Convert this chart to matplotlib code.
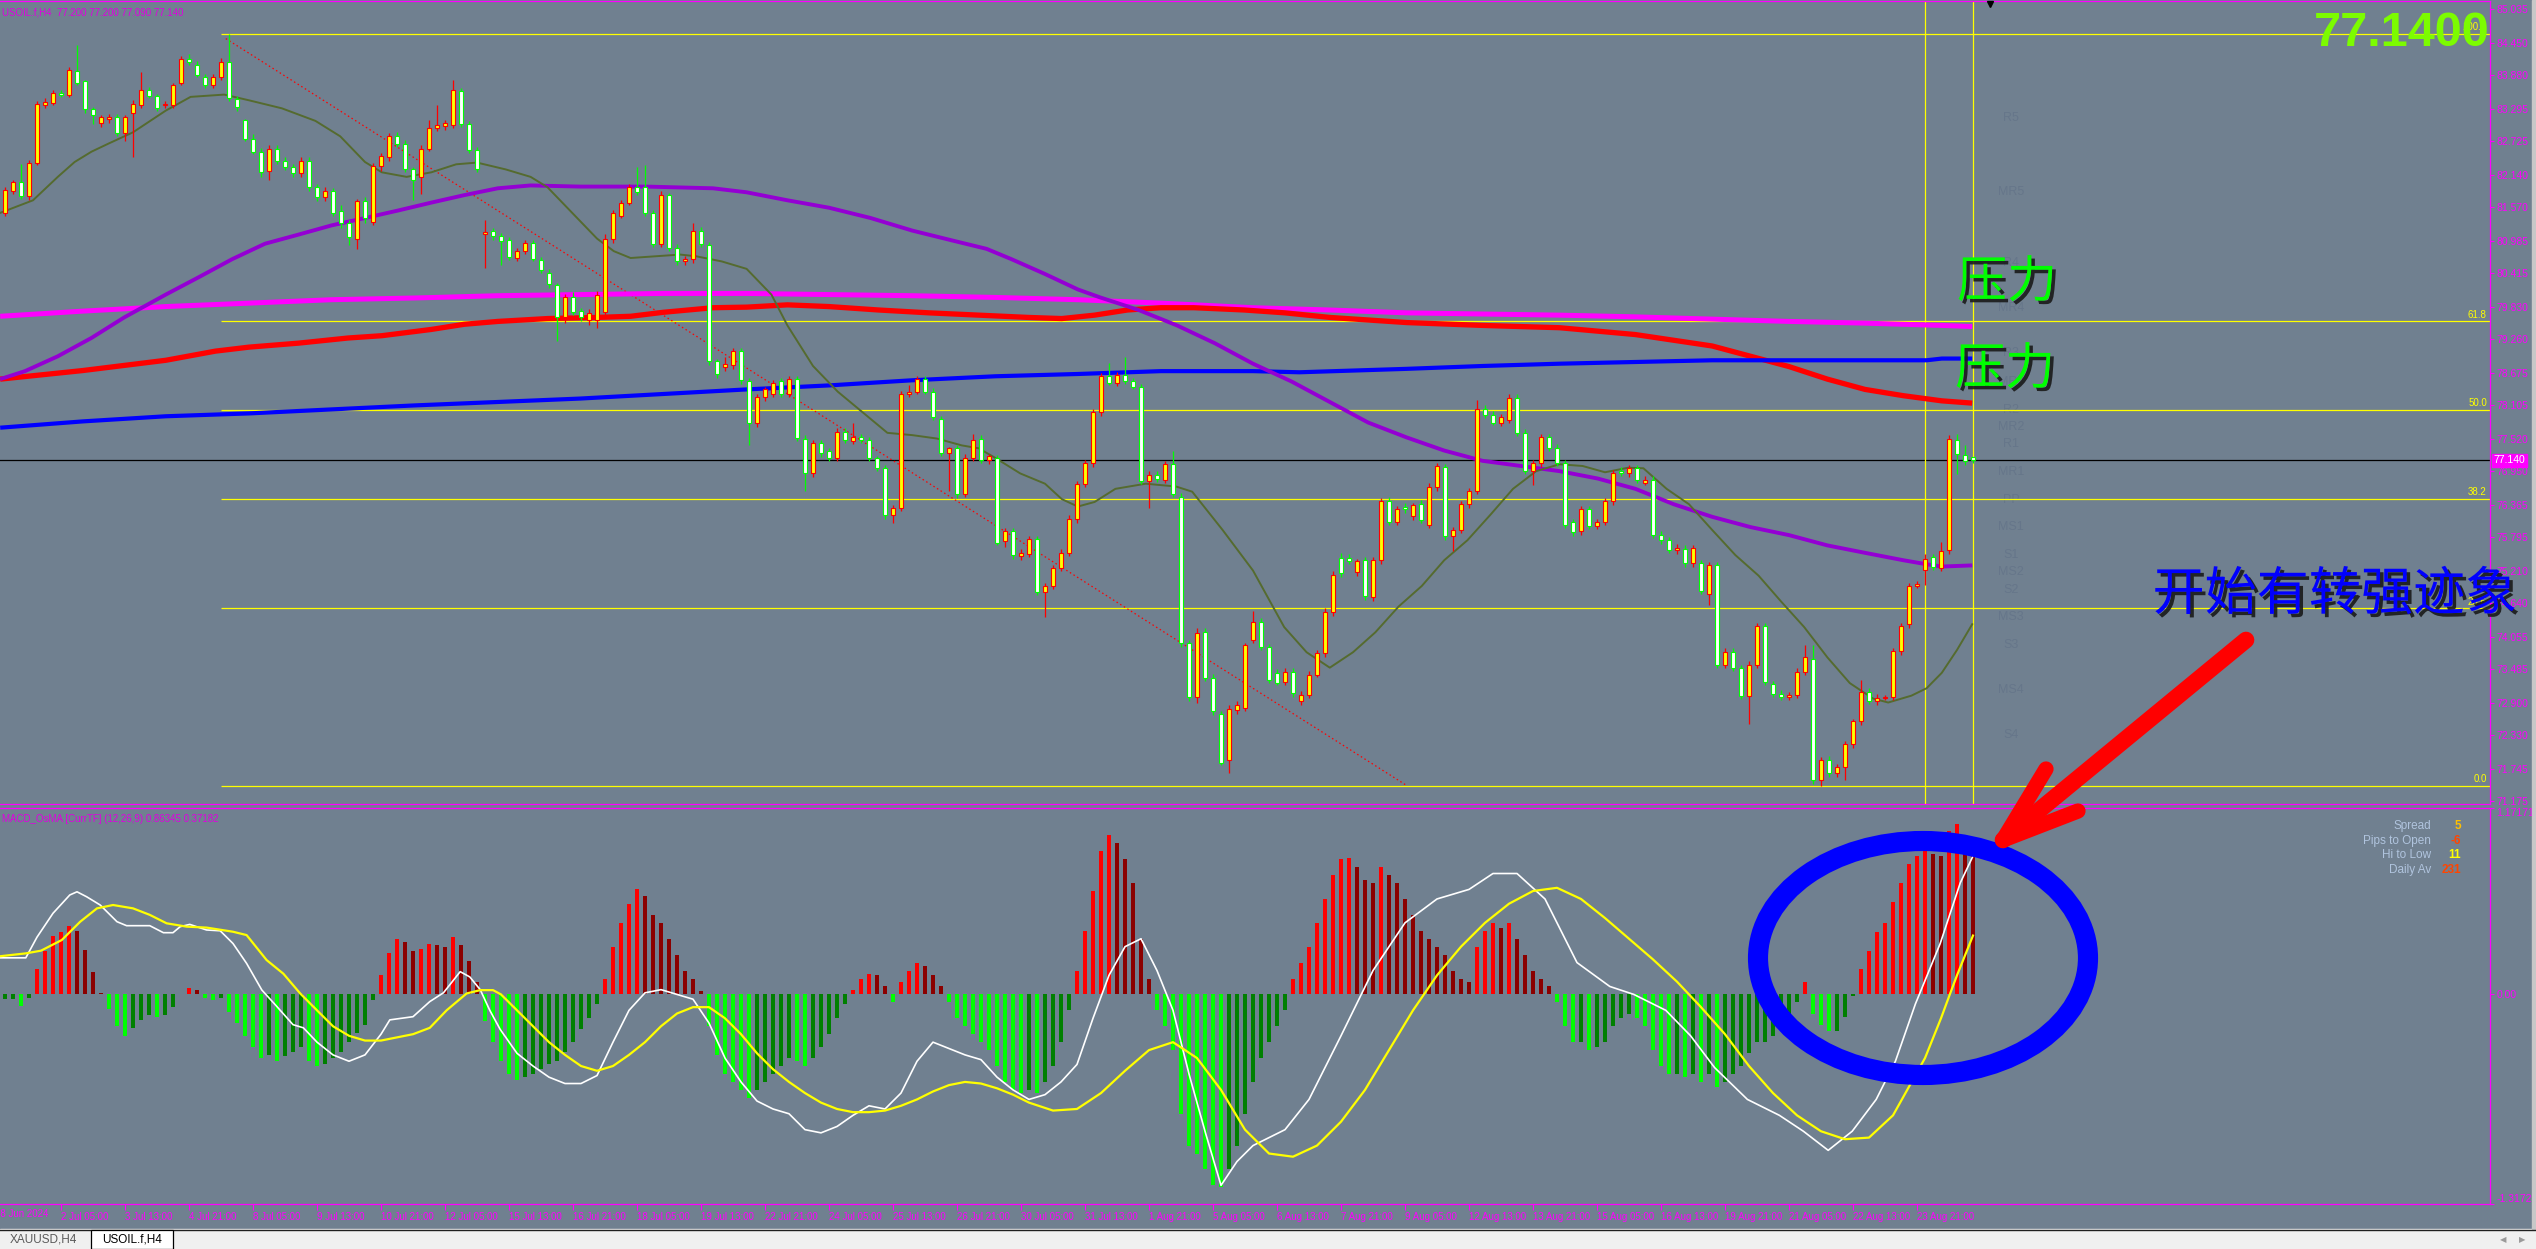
import matplotlib
matplotlib.use("Agg")
import matplotlib.pyplot as plt
import matplotlib.patheffects as pe
from matplotlib import font_manager
from matplotlib.patches import Ellipse, Rectangle
import numpy as np

W, H = 2536, 1249
BG = "#708090"
MAG = "#FF00FF"

installed = {f.name for f in font_manager.fontManager.ttflist}
ARIAL = "Liberation Sans" if "Liberation Sans" in installed else "DejaVu Sans"
NARROW = "Liberation Sans Narrow" if "Liberation Sans Narrow" in installed else ARIAL
CJK = ["Noto Sans CJK SC", "DejaVu Sans"]

# ---------------- data (USOIL.f, H4) ----------------
bar_open = [
    81.47, 81.85, 82.01, 81.76, 82.35, 83.35, 83.39, 83.57, 83.54, 83.96,
    83.77, 83.28, 83.05, 83.12, 83.15, 82.86, 83.21, 83.35, 83.62, 83.51,
    83.35, 83.35, 83.75, 84.17, 84.06, 83.84, 83.71, 83.84, 84.11, 83.46,
    83.10, 82.77, 82.54, 82.20, 82.59, 82.38, 82.27, 82.16, 82.38, 81.92,
    81.74, 81.85, 81.51, 81.29, 81.02, 81.67, 81.31, 82.29, 82.44, 82.81,
    82.68, 82.23, 82.10, 82.59, 82.95, 82.99, 83.00, 83.60, 83.03, 82.57,
    81.10, 81.15, 81.07, 81.00, 80.68, 80.80, 80.94, 80.65, 80.42, 80.20,
    79.64, 80.00, 79.75, 79.60, 79.60, 79.73, 81.02, 81.42, 81.65, 81.92,
    81.92, 81.47, 80.93, 81.78, 80.86, 80.62, 80.66, 81.16, 80.90, 78.87,
    78.78, 78.80, 79.05, 78.52, 77.80, 78.25, 78.30, 78.52, 78.30, 78.56,
    77.52, 76.91, 77.44, 77.30, 77.18, 77.64, 77.48, 77.55, 77.49, 77.18,
    77.00, 76.19, 76.30, 78.30, 78.34, 78.56, 78.34, 77.87, 77.27, 77.35,
    76.55, 77.18, 77.51, 77.15, 77.18, 75.72, 75.90, 75.46, 75.50, 75.77,
    74.83, 74.94, 75.25, 75.52, 76.12, 76.73, 77.09, 77.98, 78.61, 78.50,
    78.63, 78.52, 78.43, 76.77, 76.89, 76.80, 77.07, 76.50, 73.94, 72.99,
    74.13, 73.33, 72.70, 71.90, 72.77, 72.80, 74.00, 74.31, 73.87, 73.42,
    73.26, 73.44, 72.93, 73.04, 73.39, 73.76, 74.49, 75.43, 75.43, 75.19,
    75.39, 74.74, 75.39, 76.42, 76.06, 76.33, 76.17, 76.37, 76.01, 76.68,
    77.02, 75.82, 75.92, 76.37, 76.61, 78.03, 77.94, 77.80, 77.85, 78.23,
    77.62, 76.95, 77.09, 77.54, 77.36, 77.09, 76.06, 75.90, 76.28, 75.99,
    76.06, 76.42, 76.96, 76.91, 77.00, 76.75, 76.80, 75.83, 75.74, 75.57,
    75.59, 75.34, 75.34, 74.80, 75.30, 73.55, 73.79, 73.51, 73.02, 73.55,
    74.24, 73.22, 73.05, 73.00, 73.03, 73.44, 73.66, 71.54, 71.90, 71.67,
    71.77, 72.17, 72.57, 73.08, 72.92, 72.98, 73.00, 73.81, 74.28, 74.94,
    75.22, 75.45, 75.25, 75.57, 77.49, 77.23, 77.20,
]
bar_high = [
    81.92, 82.05, 82.32, 82.40, 83.42, 83.48, 83.62, 83.62, 84.02, 84.40,
    83.80, 83.32, 83.18, 83.20, 83.20, 83.18, 83.45, 83.93, 83.68, 83.55,
    83.42, 83.75, 84.22, 84.25, 84.12, 83.90, 83.90, 84.18, 84.60, 83.52,
    83.12, 82.85, 82.60, 82.65, 82.66, 82.45, 82.33, 82.45, 82.44, 81.98,
    81.92, 81.90, 81.60, 81.35, 81.72, 81.75, 82.35, 82.52, 82.86, 82.88,
    82.74, 82.28, 82.65, 83.10, 83.35, 83.10, 83.80, 83.66, 83.08, 82.62,
    81.35, 81.20, 81.12, 81.05, 80.85, 81.00, 81.00, 80.70, 80.48, 80.25,
    80.05, 80.08, 79.80, 79.78, 80.10, 81.10, 81.52, 81.70, 81.97, 82.27,
    82.30, 81.52, 81.85, 81.82, 80.92, 80.72, 81.30, 81.22, 80.96, 78.92,
    78.95, 79.10, 79.10, 78.58, 78.30, 78.42, 78.55, 78.58, 78.62, 78.62,
    77.58, 77.50, 77.50, 77.36, 77.70, 77.70, 77.80, 77.60, 77.54, 77.22,
    77.05, 76.36, 78.35, 78.45, 78.62, 78.62, 78.40, 77.92, 77.38, 77.40,
    77.25, 77.60, 77.58, 77.25, 77.24, 75.95, 75.96, 75.58, 75.82, 75.82,
    74.99, 75.30, 75.58, 76.18, 76.78, 77.14, 78.04, 78.66, 78.85, 78.68,
    78.95, 78.58, 78.48, 76.95, 76.95, 77.12, 77.30, 76.56, 74.00, 74.20,
    74.20, 73.40, 72.76, 72.85, 72.92, 73.95, 74.50, 74.38, 73.92, 73.48,
    73.50, 73.50, 73.10, 73.45, 73.82, 74.55, 75.20, 75.52, 75.50, 75.42,
    75.45, 75.45, 76.48, 76.50, 76.34, 76.40, 76.40, 76.45, 76.74, 77.10,
    77.08, 75.98, 76.42, 76.66, 78.20, 78.10, 78.00, 77.95, 78.30, 78.30,
    77.68, 77.14, 77.60, 77.60, 77.42, 77.14, 76.12, 76.34, 76.34, 76.12,
    76.48, 76.97, 77.02, 77.06, 77.06, 76.86, 76.86, 75.90, 75.80, 75.68,
    75.65, 75.66, 75.40, 75.36, 75.36, 73.85, 73.85, 73.56, 73.62, 74.30,
    74.30, 73.28, 73.12, 73.08, 73.50, 73.90, 73.90, 71.95, 71.96, 71.82,
    72.22, 72.62, 73.30, 73.15, 73.05, 73.04, 73.86, 74.30, 75.00, 75.02,
    75.50, 75.50, 75.71, 77.58, 77.60, 77.40, 77.20,
]
bar_low = [
    81.42, 81.80, 81.72, 81.70, 82.30, 83.30, 83.35, 83.50, 83.50, 83.70,
    83.22, 83.03, 82.98, 83.05, 82.82, 82.72, 82.45, 83.30, 83.48, 83.25,
    83.30, 83.30, 83.70, 84.05, 83.84, 83.66, 83.65, 83.80, 83.42, 83.25,
    82.72, 82.50, 82.10, 82.05, 82.33, 82.22, 82.10, 82.10, 81.86, 81.68,
    81.68, 81.42, 81.20, 80.90, 80.83, 81.30, 81.25, 82.20, 82.38, 82.62,
    82.18, 81.70, 81.80, 82.55, 82.90, 82.92, 82.95, 82.98, 82.52, 82.18,
    80.50, 81.00, 80.55, 80.65, 80.62, 80.75, 80.62, 80.42, 80.15, 79.23,
    79.55, 79.68, 79.58, 79.50, 79.45, 79.65, 80.95, 81.38, 81.60, 81.78,
    81.42, 80.88, 80.88, 80.80, 80.56, 80.55, 80.60, 80.88, 78.80, 78.58,
    78.70, 78.74, 78.48, 77.40, 77.72, 78.18, 78.25, 78.25, 78.25, 77.48,
    76.60, 76.85, 77.20, 77.12, 77.12, 77.44, 77.42, 77.45, 77.12, 76.95,
    76.12, 76.05, 76.25, 78.25, 78.30, 78.30, 77.84, 77.22, 76.60, 76.48,
    76.50, 77.12, 77.10, 77.08, 75.65, 75.62, 75.42, 75.40, 75.44, 74.78,
    74.40, 74.88, 75.20, 75.46, 76.05, 76.68, 77.02, 77.92, 78.45, 78.44,
    78.48, 78.38, 76.72, 76.30, 76.76, 76.74, 76.50, 73.88, 72.92, 72.90,
    73.28, 72.68, 71.80, 71.67, 72.70, 72.75, 73.95, 73.82, 73.24, 73.20,
    73.20, 73.00, 72.85, 72.98, 73.34, 73.70, 74.42, 75.10, 75.32, 75.12,
    74.70, 74.68, 75.33, 76.00, 76.00, 76.22, 76.10, 76.04, 75.95, 76.60,
    75.75, 75.55, 75.86, 76.30, 76.55, 77.88, 77.75, 77.74, 77.80, 77.56,
    76.90, 76.70, 77.02, 77.30, 77.04, 75.95, 75.82, 75.84, 75.93, 75.93,
    76.00, 76.36, 76.86, 76.85, 76.75, 76.70, 75.78, 75.68, 75.52, 75.50,
    75.28, 75.28, 74.80, 74.60, 73.50, 73.50, 73.46, 72.97, 72.52, 73.50,
    73.20, 73.00, 72.95, 72.94, 72.98, 73.38, 71.48, 71.44, 71.60, 71.60,
    71.55, 72.10, 72.50, 72.88, 72.86, 72.94, 72.95, 73.74, 74.20, 74.90,
    74.95, 75.22, 75.20, 75.50, 76.90, 77.05, 77.09,
]
bar_close = [
    81.87, 82.01, 81.76, 82.34, 83.37, 83.41, 83.57, 83.53, 83.97, 83.75,
    83.28, 83.19, 83.14, 83.15, 82.86, 83.15, 83.38, 83.62, 83.51, 83.30,
    83.37, 83.71, 84.17, 84.11, 83.88, 83.71, 83.84, 84.11, 83.48, 83.32,
    82.77, 82.54, 82.19, 82.59, 82.38, 82.27, 82.16, 82.38, 81.92, 81.74,
    81.85, 81.47, 81.29, 81.04, 81.67, 81.38, 82.29, 82.47, 82.81, 82.68,
    82.23, 82.05, 82.59, 82.95, 83.01, 83.05, 83.62, 83.03, 82.57, 82.23,
    81.13, 81.07, 80.98, 80.70, 80.80, 80.94, 80.67, 80.47, 80.22, 79.64,
    80.00, 79.73, 79.64, 79.72, 80.04, 81.02, 81.47, 81.65, 81.92, 81.83,
    81.47, 80.93, 81.78, 80.86, 80.62, 80.66, 81.16, 80.93, 78.87, 78.65,
    78.83, 79.05, 78.54, 77.80, 78.25, 78.38, 78.50, 78.30, 78.56, 77.53,
    76.91, 77.44, 77.26, 77.18, 77.64, 77.49, 77.55, 77.50, 77.18, 77.00,
    76.19, 76.30, 78.30, 78.34, 78.56, 78.34, 77.89, 77.27, 77.35, 76.55,
    77.18, 77.50, 77.15, 77.21, 75.70, 75.90, 75.48, 75.52, 75.77, 74.83,
    74.94, 75.25, 75.52, 76.12, 76.73, 77.09, 77.98, 78.61, 78.50, 78.63,
    78.52, 78.43, 76.77, 76.89, 76.82, 77.07, 76.55, 73.94, 72.99, 74.11,
    73.33, 72.75, 71.85, 72.79, 72.85, 73.90, 74.31, 73.87, 73.29, 73.24,
    73.44, 73.06, 73.04, 73.39, 73.76, 74.49, 75.14, 75.16, 75.37, 75.37,
    74.76, 75.39, 76.42, 76.06, 76.28, 76.28, 76.35, 76.10, 76.68, 77.04,
    75.82, 75.92, 76.37, 76.61, 78.03, 77.94, 77.80, 77.89, 78.23, 77.62,
    76.95, 77.09, 77.54, 77.36, 77.09, 76.01, 75.88, 76.28, 75.99, 76.06,
    76.42, 76.91, 76.91, 77.00, 76.80, 76.80, 75.83, 75.74, 75.57, 75.61,
    75.34, 75.61, 74.85, 75.30, 73.55, 73.79, 73.51, 73.02, 73.55, 74.24,
    73.26, 73.05, 73.00, 73.03, 73.44, 73.69, 71.54, 71.90, 71.67, 71.77,
    72.17, 72.57, 73.08, 72.92, 72.98, 73.00, 73.81, 74.24, 74.94, 74.97,
    75.41, 75.27, 75.55, 77.51, 77.25, 77.13, 77.14,
]

# moving averages, sampled (bar index, price)
olive_x = [-0.6, 3.5, 6.6, 8.7, 10.8, 12.9, 16, 20.1, 23.2, 27.4, 30.5, 34.6, 38.8, 41.9, 45,
           47.1, 50.2, 53.3, 56.4, 59, 62.6, 65.7, 67.8, 70.9, 74, 76.1, 78.2, 81.3, 84.4,
           86.4, 89.6, 92.7, 95.8, 97.8, 101, 104.1, 107.2, 110.3, 113.4, 116.5, 119.6,
           121.7, 123.8, 126.9, 130, 132.1, 134.1, 136.2, 138.8, 142.6, 146.4, 148.4,
           152.2, 156, 159.9, 162.7, 165.6, 168.5, 171.3, 174.2, 177.1, 179.9, 182.8,
           185.7, 188.5, 191.4, 194.3, 197.2, 200, 202.9, 204.8, 207.7, 210.5, 213.4,
           216.3, 219.2, 222, 224.9, 227.8, 230.6, 233.5, 235.4, 238.3, 240.2, 242.1,
           244, 245.9]
olive_y = [81.47, 81.69, 82.10, 82.36, 82.54, 82.68, 82.88, 83.26, 83.50, 83.54, 83.44, 83.30,
           83.08, 82.81, 82.36, 82.18, 82.10, 82.18, 82.32, 82.35, 82.23, 82.10, 81.92,
           81.47, 81.02, 80.80, 80.68, 80.71, 80.74, 80.71, 80.62, 80.49, 80.04, 79.50,
           78.79, 78.34, 77.98, 77.62, 77.58, 77.52, 77.40, 77.35, 77.18, 76.91, 76.73,
           76.46, 76.33, 76.41, 76.64, 76.73, 76.68, 76.59, 75.92, 75.21, 74.22, 73.78,
           73.51, 73.78, 74.13, 74.58, 74.94, 75.39, 75.74, 76.19, 76.64, 76.95, 77.07,
           77.04, 76.93, 77.01, 77.00, 76.64, 76.37, 75.92, 75.48, 75.12, 74.67, 74.22,
           73.69, 73.24, 72.97, 72.90, 73.02, 73.15, 73.42, 73.82, 74.27]

purple_x = [-0.6, 2.5, 6.6, 10.8, 14.9, 20.1, 24.3, 28.4, 32.5, 36.7, 40.8, 45, 49.1, 53.3,
            57.4, 61.6, 65.7, 71.9, 80.2, 88.5, 92.7, 97.8, 103, 108.2, 113.4, 118.6, 122.7,
            125.8, 130, 134.1, 136.9, 141.7, 146.5, 151.2, 156, 160.8, 165.6, 170.4, 175.2,
            179.9, 184.7, 189.5, 194.3, 199.1, 203.8, 208.6, 213.4, 218.2, 223, 227.8,
            232.5, 237.3, 240.2, 242.1, 245.9]
purple_y = [78.56, 78.70, 78.96, 79.28, 79.64, 80.04, 80.35, 80.66, 80.93, 81.09, 81.25, 81.38,
            81.51, 81.65, 81.78, 81.90, 81.95, 81.93, 81.93, 81.90, 81.83, 81.69, 81.56,
            81.38, 81.16, 80.98, 80.84, 80.66, 80.40, 80.13, 79.99, 79.77, 79.50, 79.19,
            78.83, 78.52, 78.16, 77.80, 77.54, 77.31, 77.13, 77.04, 76.95, 76.82, 76.64,
            76.37, 76.15, 75.97, 75.83, 75.65, 75.52, 75.39, 75.32, 75.28, 75.30]

red_x = [-0.6, 9.7, 20.1, 26.3, 30.5, 36.7, 42.9, 47.1, 53.3, 57.4, 61.6, 67.8, 74, 78.2, 82.3,
         88.5, 92.7, 97.8, 103, 109.2, 115.5, 121.7, 127.9, 132.1, 136.2, 140.3, 144.5,
         148.6, 154.9, 160, 165.6, 175.2, 184.7, 194.3, 203.8, 213.4, 218.2, 223, 227.8,
         232.5, 237.3, 242.1, 245.9]
red_y = [78.56, 78.71, 78.89, 79.05, 79.12, 79.19, 79.28, 79.32, 79.43, 79.52, 79.57, 79.62,
         79.64, 79.66, 79.73, 79.81, 79.82, 79.86, 79.83, 79.77, 79.72, 79.68, 79.64, 79.62,
         79.68, 79.77, 79.81, 79.81, 79.77, 79.72, 79.64, 79.55, 79.50, 79.46, 79.34, 79.14,
         78.96, 78.78, 78.56, 78.38, 78.27, 78.18, 78.14]

magenta_x = [-0.6, 9.7, 20.1, 30.5, 40.8, 51.2, 61.6, 71.9, 82.3, 92.7, 103, 113.4, 123.8,
             134.1, 144.5, 156, 165.6, 175.2, 184.7, 194.3, 203.8, 213.4, 223, 232.5, 242.1,
             245.9]
magenta_y = [79.66, 79.75, 79.83, 79.89, 79.95, 79.98, 80.02, 80.04, 80.06, 80.06, 80.04, 80.02,
             79.99, 79.95, 79.89, 79.81, 79.77, 79.72, 79.70, 79.68, 79.65, 79.61, 79.57,
             79.54, 79.50, 79.48]

blue_x = [-0.6, 9.7, 20.1, 30.5, 40.8, 51.2, 61.6, 71.9, 82.3, 92.7, 103, 113.4, 123.8, 134.1,
          144.5, 156, 161.8, 175.2, 184.7, 194.3, 203.8, 213.4, 232.5, 240.2, 242.1, 245.9]
blue_y = [77.71, 77.82, 77.91, 77.96, 78.03, 78.10, 78.16, 78.22, 78.30, 78.38, 78.45, 78.54,
          78.61, 78.65, 78.70, 78.70, 78.68, 78.74, 78.79, 78.83, 78.86, 78.89, 78.89, 78.89,
          78.92, 78.92]

# fibonacci retracement drawn from the swing high to the swing low
fib_high, fib_low = 84.60, 71.44
fib_start_bar = 27
fib_levels = [0.0, 23.6, 38.2, 50.0, 61.8, 100.0]

# red dotted trend line
trend_x = [27.6, 175.3]
trend_y = [84.52, 71.44]

current_price = 77.14
separator_bars = [240, 246]

price_ticks = [85.035, 84.450, 83.880, 83.295, 82.725, 82.140, 81.570, 80.985, 80.415,
               79.830, 79.260, 78.675, 78.105, 77.520, 76.950, 76.365, 75.795, 75.210,
               74.640, 74.055, 73.485, 72.900, 72.330, 71.745, 71.175]

pivot_names = ["R5", "MR5", "R4", "MR4", "R3", "MR3", "R2", "MR2", "R1", "MR1", "PP",
               "MS1", "S1", "MS2", "S2", "MS3", "S3", "MS4", "S4"]
pivot_prices = [83.13, 81.83, 80.59, 79.80, 79.02, 78.51, 78.02, 77.72, 77.42, 76.93, 76.44,
                75.97, 75.48, 75.18, 74.87, 74.40, 73.91, 73.12, 72.33]

date_labels = ["28 Jun 2024", "2 Jul 05:00", "3 Jul 13:00", "4 Jul 21:00", "8 Jul 05:00",
               "9 Jul 13:00", "10 Jul 21:00", "12 Jul 05:00", "15 Jul 13:00", "16 Jul 21:00",
               "18 Jul 05:00", "19 Jul 13:00", "22 Jul 21:00", "24 Jul 05:00", "25 Jul 13:00",
               "26 Jul 21:00", "30 Jul 05:00", "31 Jul 13:00", "1 Aug 21:00", "5 Aug 05:00",
               "6 Aug 13:00", "7 Aug 21:00", "9 Aug 05:00", "12 Aug 13:00", "13 Aug 21:00",
               "15 Aug 05:00", "16 Aug 13:00", "19 Aug 21:00", "21 Aug 05:00", "22 Aug 13:00",
               "23 Aug 21:00"]
date_first_bar = -1

# MACD_OsMA sub window
osma = [
    -0.03, -0.03, -0.07, -0.02, 0.16, 0.27, 0.37, 0.39, 0.43, 0.40,
    0.28, 0.14, 0.01, -0.09, -0.20, -0.26, -0.21, -0.16, -0.13, -0.14,
    -0.13, -0.08, 0.005, 0.04, 0.03, -0.02, -0.035, -0.02, -0.11, -0.18,
    -0.26, -0.33, -0.40, -0.38, -0.42, -0.39, -0.36, -0.33, -0.42, -0.45,
    -0.44, -0.40, -0.36, -0.30, -0.24, -0.19, -0.035, 0.12, 0.26, 0.35,
    0.33, 0.27, 0.285, 0.32, 0.31, 0.295, 0.36, 0.31, 0.21, 0.08,
    -0.17, -0.30, -0.42, -0.50, -0.54, -0.52, -0.50, -0.47, -0.44, -0.42,
    -0.36, -0.30, -0.22, -0.15, -0.06, 0.10, 0.30, 0.45, 0.57, 0.66,
    0.62, 0.50, 0.45, 0.35, 0.25, 0.15, 0.10, 0.02, -0.20, -0.38,
    -0.50, -0.55, -0.60, -0.65, -0.60, -0.55, -0.50, -0.45, -0.40, -0.42,
    -0.45, -0.40, -0.33, -0.25, -0.15, -0.06, 0.03, 0.10, 0.13, 0.12,
    0.05, -0.05, 0.08, 0.15, 0.20, 0.18, 0.12, 0.05, -0.05, -0.15,
    -0.20, -0.25, -0.30, -0.35, -0.45, -0.55, -0.60, -0.62, -0.60, -0.62,
    -0.55, -0.45, -0.30, -0.10, 0.15, 0.40, 0.65, 0.90, 1.00, 0.95,
    0.85, 0.70, 0.35, 0.10, -0.10, -0.20, -0.35, -0.75, -0.95, -1.00,
    -1.10, -1.20, -1.21, -1.10, -0.95, -0.75, -0.55, -0.40, -0.30, -0.20,
    -0.10, 0.10, 0.20, 0.30, 0.45, 0.60, 0.75, 0.85, 0.86, 0.80,
    0.72, 0.70, 0.80, 0.75, 0.70, 0.60, 0.50, 0.40, 0.35, 0.30,
    0.25, 0.15, 0.10, 0.08, 0.30, 0.40, 0.45, 0.42, 0.45, 0.35,
    0.25, 0.15, 0.10, 0.05, -0.05, -0.20, -0.30, -0.30, -0.35, -0.33,
    -0.30, -0.20, -0.15, -0.12, -0.15, -0.20, -0.35, -0.45, -0.50, -0.50,
    -0.52, -0.50, -0.55, -0.50, -0.58, -0.55, -0.50, -0.45, -0.37, -0.30,
    -0.30, -0.26, -0.20, -0.15, -0.05, 0.076, -0.12, -0.19, -0.23, -0.23,
    -0.14, -0.01, 0.16, 0.27, 0.39, 0.45, 0.58, 0.70, 0.82, 0.87,
    0.90, 0.88, 0.87, 1.03, 1.07, 1.00, 0.97,
]
macd_x = [-0.6, 2.6, 4, 6, 8.1, 9, 10.2, 11.9, 14, 15.2, 18.1, 19.8, 21, 21.9, 23.1, 25.2,
          26.9, 28.5, 30.2, 32.1, 34, 36, 37.3, 39, 41, 43, 45, 47, 48.1, 51, 53.1, 54.8,
          56.9, 58.1, 59.4, 60.6, 61.9, 64, 66, 68, 70, 72, 74, 76, 78, 80, 82, 84, 86, 88,
          90, 92, 94, 96, 98, 100, 102, 104, 106, 108, 110, 112, 114, 116, 118, 120, 122,
          124, 126, 128, 130, 132, 134, 136, 138, 140, 142, 144, 146, 148, 150, 152, 154,
          156, 158, 160, 163, 167, 171, 175, 179, 183, 186, 189, 192.5, 196.5, 200.6, 203.6,
          207.6, 210.7, 213.7, 217.8, 221.8, 224.8, 227.9, 230.9, 233.9, 236.3, 238.8,
          241.9, 244.4, 246]
macd_y = [0.23, 0.23, 0.36, 0.51, 0.625, 0.645, 0.614, 0.562, 0.457, 0.432, 0.432, 0.388,
          0.388, 0.426, 0.44, 0.405, 0.40, 0.32, 0.195, 0.028, -0.077, -0.19, -0.21, -0.30,
          -0.38, -0.42, -0.38, -0.25, -0.16, -0.14, -0.045, 0.01, 0.143, 0.11, 0.03, -0.10,
          -0.22, -0.37, -0.45, -0.52, -0.56, -0.56, -0.51, -0.30, -0.10, 0.01, 0.03, 0.0,
          -0.03, -0.18, -0.40, -0.55, -0.67, -0.72, -0.75, -0.85, -0.87, -0.83, -0.76, -0.70,
          -0.72, -0.62, -0.42, -0.30, -0.34, -0.38, -0.41, -0.52, -0.60, -0.66, -0.63, -0.55,
          -0.44, -0.15, 0.12, 0.30, 0.35, 0.15, -0.10, -0.50, -0.86, -1.20, -1.05, -0.95,
          -0.90, -0.85, -0.66, -0.26, 0.15, 0.45, 0.60, 0.66, 0.76, 0.76, 0.60, 0.20, 0.05,
          0.0, -0.10, -0.26, -0.46, -0.66, -0.76, -0.86, -0.98, -0.86, -0.66, -0.42, -0.06,
          0.32, 0.70, 0.87]
signal_x = [-0.6, 2.6, 4.5, 7.1, 9.4, 11.5, 13.5, 16, 18.1, 20.2, 22.7, 25.2, 28.5, 30.2,
            32.7, 34.8, 36.9, 39, 41, 43, 45, 47, 49, 51, 53.1, 55.2, 57.7, 59.4, 61, 62,
            64, 66, 68, 70, 72, 74, 76, 78, 80, 82, 84, 86, 88, 90, 92, 94, 96, 98, 100,
            102, 104, 106, 108, 110, 112, 114, 116, 118, 120, 122, 124, 126, 128, 131, 134,
            137, 140, 143, 146, 149, 152, 155, 158, 161, 164, 167, 170, 173, 176, 179, 182,
            185, 188, 191, 194, 197, 200, 203, 206, 209, 212, 215, 218, 221, 224, 227, 230,
            233, 236, 238, 240, 242, 243.1, 244, 246]
signal_y = [0.24, 0.258, 0.275, 0.342, 0.457, 0.541, 0.562, 0.541, 0.50, 0.447, 0.426, 0.42,
            0.394, 0.373, 0.216, 0.13, 0.006, -0.10, -0.20, -0.26, -0.29, -0.29, -0.27,
            -0.25, -0.21, -0.10, 0.006, 0.027, 0.027, 0.0, -0.10, -0.20, -0.30, -0.38, -0.45,
            -0.48, -0.45, -0.38, -0.30, -0.20, -0.12, -0.08, -0.08, -0.15, -0.25, -0.37,
            -0.47, -0.55, -0.62, -0.68, -0.72, -0.74, -0.74, -0.73, -0.70, -0.66, -0.61,
            -0.57, -0.55, -0.56, -0.59, -0.63, -0.68, -0.73, -0.72, -0.62, -0.48, -0.35,
            -0.30, -0.40, -0.60, -0.85, -1.00, -1.02, -0.95, -0.80, -0.60, -0.35, -0.10,
            0.12, 0.30, 0.45, 0.57, 0.65, 0.67, 0.60, 0.48, 0.35, 0.22, 0.08, -0.08, -0.25,
            -0.45, -0.62, -0.76, -0.86, -0.91, -0.90, -0.76, -0.58, -0.40, -0.15, 0.0, 0.12,
            0.37]
sub_top, sub_bottom = 1.17171, -1.31724

info_names = ["Spread", "Pips to Open", "Hi to Low", "Daily Av"]
info_values = ["5", "-6", "11", "231"]

# ---------------- figure ----------------
fig = plt.figure(figsize=(W / 100, H / 100), dpi=100, facecolor=BG)


def px_box(x0, y0, x1, y1):
    return [x0 / W, 1 - y1 / H, (x1 - x0) / W, (y1 - y0) / H]


ax = fig.add_axes(px_box(0, 1, 2490, 804))
ax2 = fig.add_axes(px_box(0, 808, 2490, 1204))
x_left, x_right = -0.625, 310.625

for a in (ax, ax2):
    a.set_facecolor(BG)
    a.set_xlim(x_left, x_right)
    a.spines["left"].set_visible(False)
    for s in ("top", "right", "bottom"):
        a.spines[s].set_color(MAG)
        a.spines[s].set_linewidth(0.9)

ax.set_ylim(71.124, 85.178)
ax2.set_ylim(sub_bottom, sub_top)

# --- main window ---
o = np.array(bar_open)
hi = np.array(bar_high)
lo = np.array(bar_low)
c = np.array(bar_close)
xb = np.arange(len(o))
up = c >= o

fib_prices = [fib_low + lv / 100.0 * (fib_high - fib_low) for lv in fib_levels]
ax.hlines(fib_prices, fib_start_bar, x_right, color="#FFFF00", lw=0.9, zorder=2)
for lv, pr in zip(fib_levels, fib_prices):
    ax.text(x_right - 0.4, pr + 0.03, f"{lv:.1f}", color="#FFFF00", fontsize=7,
            family=NARROW, ha="right", va="bottom", zorder=2)

ax.axhline(current_price, color="black", lw=0.9, zorder=2)
for sb in separator_bars:
    ax.axvline(sb, color="#FFFF00", lw=0.9, zorder=2)

for nm, pr in zip(pivot_names, pivot_prices):
    ax.text(250.75, pr, nm, color="#66768a", fontsize=9, family=ARIAL,
            ha="center", va="center", zorder=1)

ax.plot(trend_x, trend_y, color="#FF0000", lw=0.9, ls=(0, (1.2, 2.2)), zorder=2)

ax.plot(magenta_x, magenta_y, color="#FF00FF", lw=3.6, zorder=3, solid_capstyle="butt")
ax.plot(red_x, red_y, color="#FF0000", lw=3.8, zorder=3, solid_capstyle="butt")
ax.plot(blue_x, blue_y, color="#0000FF", lw=3.0, zorder=3, solid_capstyle="butt")
ax.plot(purple_x, purple_y, color="#9400D3", lw=2.8, zorder=3, solid_capstyle="butt")
ax.plot(olive_x, olive_y, color="#556B2F", lw=1.4, zorder=3)

ax.vlines(xb[up], lo[up], hi[up], color="#FF0000", lw=0.9, zorder=4)
ax.vlines(xb[~up], lo[~up], hi[~up], color="#00FF00", lw=0.9, zorder=4)
ax.bar(xb[up], (c - o)[up], bottom=o[up], width=0.6, color="#FFFF00",
       edgecolor="#FF0000", linewidth=0.8, zorder=5)
ax.bar(xb[~up], (o - c)[~up], bottom=c[~up], width=0.6, color="white",
       edgecolor="#00FF00", linewidth=0.8, zorder=5)

ax.yaxis.tick_right()
ax.set_yticks(price_ticks)
ax.set_yticklabels([f"{v:.3f}" for v in price_ticks])
ax.tick_params(axis="y", colors=MAG, labelcolor=MAG, length=3, width=0.8, pad=1.5,
               labelsize=7.5)
for t in ax.get_yticklabels():
    t.set_fontfamily(NARROW)
ax.tick_params(axis="x", bottom=False, labelbottom=False)

ax.text(1.0015, current_price, f"{current_price:.3f}", transform=ax.get_yaxis_transform(),
        color="white", fontsize=7.5, family=NARROW, ha="left", va="center", zorder=20,
        clip_on=False, bbox=dict(boxstyle="square,pad=0.12", fc=MAG, ec=MAG))

ax.text(0.001, 0.992, f"USOIL.f,H4  {bar_open[-1]:.3f} {bar_high[-1]:.3f} "
        f"{bar_low[-1]:.3f} {bar_close[-1]:.3f}", transform=ax.transAxes,
        color="#E000E0", fontsize=7, family=NARROW, ha="left", va="top")

# --- MACD sub window ---
hist_colors = []
for i, v in enumerate(osma):
    prev = osma[i - 1] if i > 0 else v
    if v > 0:
        hist_colors.append("#FF0000" if v >= prev else "#8B0000")
    else:
        hist_colors.append("#00FF00" if v < prev else "#008000")
ax2.bar(xb, osma, width=0.38, color=hist_colors, zorder=3)
ax2.plot(macd_x, macd_y, color="white", lw=1.2, zorder=4)
ax2.plot(signal_x, signal_y, color="#FFFF00", lw=1.6, zorder=4)

ax2.yaxis.tick_right()
ax2.set_yticks([sub_top, 0.0, sub_bottom])
ax2.set_yticklabels([f"{sub_top:.5f}", "0.00", f"{sub_bottom:.5f}"])
ax2.tick_params(axis="y", colors=MAG, labelcolor=MAG, length=3, width=0.8, pad=1.5,
                labelsize=7.5)
ylabels = ax2.get_yticklabels()
for t in ylabels:
    t.set_fontfamily(NARROW)
ylabels[0].set_va("top")
ylabels[2].set_va("bottom")

date_bars = [date_first_bar + 8 * k for k in range(len(date_labels))]
ax2.set_xticks(date_bars[1:])
ax2.set_xticklabels(date_labels[1:], ha="left")
ax2.tick_params(axis="x", colors=MAG, labelcolor=MAG, length=4, width=0.8, pad=1.5,
                labelsize=7)
for t in ax2.get_xticklabels():
    t.set_fontfamily(NARROW)
ax2.text(-5 / 2490, -0.012, date_labels[0], transform=ax2.transAxes, color=MAG,
         fontsize=7, family=NARROW, ha="left", va="top", clip_on=False)

ax2.text(0.001, 0.985, f"MACD_OsMA [CurrTF] (12,26,9) {macd_y[-1] - 0.00655:.5f} "
         f"{signal_y[-1] + 0.00182:.5f}", transform=ax2.transAxes, color="#E000E0",
         fontsize=7, family=NARROW, ha="left", va="top")

# --- overlay: terminal chrome and hand-drawn annotations (pixel coordinates) ---
ov = fig.add_axes([0, 0, 1, 1], zorder=10)
ov.set_xlim(0, W)
ov.set_ylim(H, 0)
ov.axis("off")
ov.patch.set_alpha(0)

ov.add_patch(Rectangle((0, 1229), W, 20, color="#F0F0F0", zorder=1))
ov.plot([0, W], [1230, 1230], color="#202020", lw=1.0, zorder=2)
ov.add_patch(Rectangle((91, 1230), 82, 19, fc="white", ec="black", lw=0.9, zorder=3))
ov.text(43, 1240, "XAUUSD,H4", color="#5a5a5a", fontsize=8.5, family=ARIAL,
        ha="center", va="center", zorder=4)
ov.text(132, 1240, "USOIL.f,H4", color="black", fontsize=8.5, family=ARIAL,
        ha="center", va="center", zorder=4)
ov.text(2503, 1240, "\u25c0", color="#9a9a9a", fontsize=6, ha="center", va="center")
ov.text(2522, 1240, "\u25b6", color="#9a9a9a", fontsize=6, ha="center", va="center")
ov.add_patch(Rectangle((2532, 0), 4, 1229, color="#C8C8C8", zorder=1))

ov.plot([1990], [4], marker="v", color="black", markersize=5)

ov.text(2490, 33, f"{current_price:.4f}", color="#7CFC00", fontsize=35, weight="bold",
        family=ARIAL, ha="right", va="center")

for (name, val, col), yy in zip(zip(info_names, info_values,
                                    ["#FFC000", "#FF4500", "#FFFF00", "#FF4500"]),
                                 [826, 841, 855, 870]):
    ov.text(2431, yy, name, color="#B0C4DE", fontsize=8.5, family=ARIAL,
            ha="right", va="center")
    ov.text(2461, yy, val, color=col, fontsize=8.5, family=ARIAL, weight="bold",
            ha="right", va="center")

shadow = [pe.SimplePatchShadow(offset=(2.5, -2.5), shadow_rgbFace="#1a1a1a", alpha=0.9),
          pe.Normal()]
ov.text(2007, 283, "压力", color="#00FF00", fontsize=36, family=CJK,
        ha="center", va="center", path_effects=shadow)
ov.text(2005, 370, "压力", color="#00FF00", fontsize=36, family=CJK,
        ha="center", va="center", path_effects=shadow)
ov.text(2335, 595, "开始有转强迹象", color="#0000FF", fontsize=37.5, family=CJK,
        ha="center", va="center", path_effects=shadow)

ov.add_patch(Ellipse((1923, 958), 330, 234, fill=False, ec="#0000FF", lw=14.5, zorder=5))
ov.plot([2246, 2003], [640, 840], color="#FF0000", lw=12, solid_capstyle="round", zorder=6)
ov.plot([2046, 2003], [769, 840], color="#FF0000", lw=11, solid_capstyle="round", zorder=6)
ov.plot([2078, 2003], [811, 840], color="#FF0000", lw=11, solid_capstyle="round", zorder=6)

fig.savefig("out.png", dpi=100, facecolor=BG)
